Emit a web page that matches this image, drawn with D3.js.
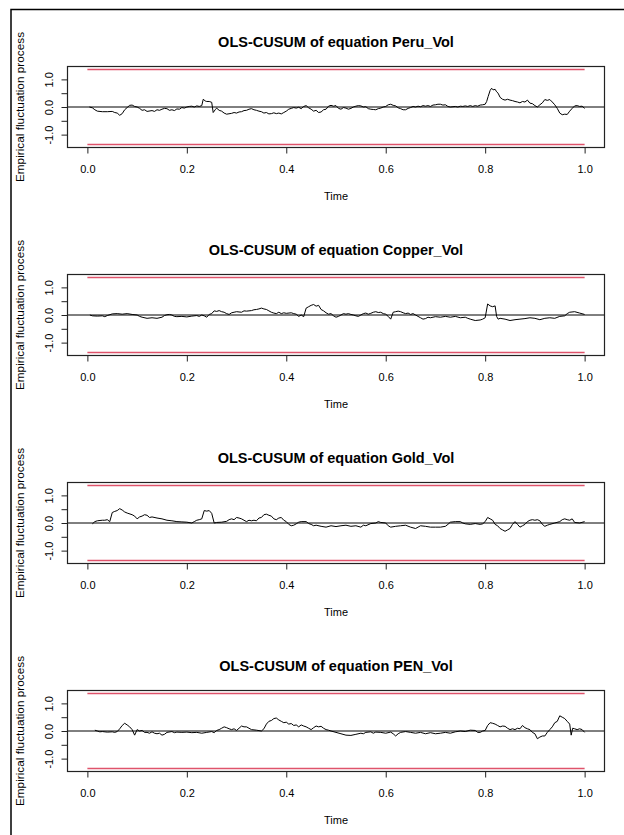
<!DOCTYPE html>
<html>
<head>
<meta charset="utf-8">
<script src="https://cdn.jsdelivr.net/npm/d3@7"></script>
<style>
  html, body { margin: 0; padding: 0; background: #fff; }
  svg { display: block; font-family: "Liberation Sans", Arial, sans-serif; }
</style>
</head>
<body>
<svg id="chart" width="624" height="835"></svg>
<script>
// ---- data ----
const panelTitles = [
  "OLS-CUSUM of equation Peru_Vol",
  "OLS-CUSUM of equation Copper_Vol",
  "OLS-CUSUM of equation Gold_Vol",
  "OLS-CUSUM of equation PEN_Vol"
];
const timeTicks = [0, 0.2, 0.4, 0.6, 0.8, 1.0];
const yTicks = [-1, -0.5, 0, 0.5, 1];
const yTickLabels = ["-1.0", "", "0.0", "", "1.0"];
const boundary = 1.358;
const xLabel = "Time";
const yLabel = "Empirical fluctuation process";

const peruVol = [[0.004,0],[0.01,-0.03],[0.015,-0.1],[0.02,-0.15],[0.03,-0.17],[0.04,-0.17],[0.05,-0.16],[0.055,-0.2],[0.06,-0.22],[0.065,-0.3],[0.07,-0.24],[0.075,-0.1],[0.08,-0.02],[0.085,0.06],[0.09,0.07],[0.095,0.02],[0.1,0.0],[0.105,-0.05],[0.11,-0.12],[0.115,-0.1],[0.12,-0.16],[0.13,-0.13],[0.135,-0.16],[0.14,-0.1],[0.145,-0.12],[0.15,-0.08],[0.155,-0.05],[0.16,-0.06],[0.165,-0.12],[0.17,-0.1],[0.175,-0.13],[0.18,-0.07],[0.185,-0.08],[0.19,-0.02],[0.195,-0.04],[0.2,0.0],[0.205,0.02],[0.21,0.03],[0.215,0.0],[0.22,0.04],[0.225,0.02],[0.23,0.05],[0.233,0.28],[0.237,0.22],[0.24,0.2],[0.245,0.2],[0.25,0.17],[0.253,-0.2],[0.257,-0.1],[0.26,-0.04],[0.265,-0.12],[0.27,-0.15],[0.275,-0.22],[0.28,-0.26],[0.29,-0.23],[0.295,-0.2],[0.3,-0.22],[0.305,-0.18],[0.31,-0.17],[0.315,-0.13],[0.32,-0.12],[0.325,-0.08],[0.33,-0.06],[0.335,-0.1],[0.34,-0.12],[0.345,-0.15],[0.35,-0.17],[0.355,-0.22],[0.36,-0.2],[0.365,-0.25],[0.37,-0.24],[0.375,-0.21],[0.38,-0.24],[0.385,-0.22],[0.39,-0.25],[0.395,-0.2],[0.4,-0.15],[0.405,-0.08],[0.41,-0.05],[0.415,-0.02],[0.42,-0.04],[0.425,-0.01],[0.43,-0.06],[0.435,0.02],[0.44,0.05],[0.445,-0.03],[0.45,-0.08],[0.455,-0.15],[0.46,-0.12],[0.465,-0.2],[0.47,-0.18],[0.475,-0.1],[0.48,-0.08],[0.485,0.03],[0.49,0.06],[0.495,0.03],[0.5,0.05],[0.505,-0.05],[0.51,-0.08],[0.515,-0.02],[0.52,-0.04],[0.525,-0.08],[0.53,-0.05],[0.535,0.0],[0.54,0.03],[0.545,0.05],[0.55,0.04],[0.555,0.0],[0.56,0.01],[0.565,-0.06],[0.57,-0.08],[0.575,-0.09],[0.58,-0.1],[0.585,-0.06],[0.59,-0.04],[0.595,0.0],[0.6,0.02],[0.605,0.08],[0.61,0.1],[0.615,0.06],[0.62,0.04],[0.625,-0.03],[0.63,-0.06],[0.635,-0.1],[0.64,-0.1],[0.645,-0.05],[0.65,-0.02],[0.655,0.02],[0.66,0.0],[0.665,0.03],[0.67,0.01],[0.675,0.05],[0.68,0.03],[0.685,0.05],[0.69,0.02],[0.695,0.07],[0.7,0.08],[0.705,0.1],[0.71,0.1],[0.715,0.07],[0.72,0.08],[0.725,0.02],[0.73,0.0],[0.74,0.02],[0.745,0.0],[0.75,0.03],[0.755,0.02],[0.76,0.04],[0.765,0.02],[0.77,0.05],[0.775,0.02],[0.78,0.05],[0.785,0.03],[0.79,0.07],[0.795,0.08],[0.8,0.1],[0.803,0.2],[0.806,0.38],[0.81,0.6],[0.813,0.68],[0.816,0.62],[0.82,0.64],[0.823,0.55],[0.826,0.5],[0.83,0.35],[0.835,0.28],[0.84,0.25],[0.845,0.28],[0.85,0.25],[0.855,0.23],[0.86,0.2],[0.865,0.18],[0.87,0.15],[0.875,0.2],[0.88,0.18],[0.885,0.25],[0.89,0.14],[0.895,0.12],[0.9,0.05],[0.905,0.0],[0.91,0.08],[0.915,0.15],[0.92,0.27],[0.925,0.24],[0.93,0.27],[0.935,0.18],[0.94,0.08],[0.945,-0.05],[0.95,-0.22],[0.955,-0.28],[0.96,-0.26],[0.965,-0.27],[0.97,-0.15],[0.975,-0.05],[0.98,0.04],[0.985,0.05],[0.99,0.02],[0.995,0.03],[1.0,-0.05]];

const copperVol = [[0.005,0.0],[0.01,-0.03],[0.02,-0.04],[0.03,-0.03],[0.035,-0.06],[0.04,-0.02],[0.05,0.04],[0.06,0.05],[0.07,0.03],[0.08,0.05],[0.09,0.02],[0.1,0.0],[0.105,-0.05],[0.11,-0.08],[0.12,-0.12],[0.13,-0.1],[0.14,-0.12],[0.15,-0.08],[0.155,-0.02],[0.16,0.01],[0.165,0.02],[0.17,0.0],[0.175,-0.05],[0.18,-0.06],[0.19,-0.05],[0.2,-0.07],[0.21,-0.04],[0.22,-0.02],[0.225,-0.05],[0.23,0.0],[0.235,-0.03],[0.24,-0.08],[0.245,0.02],[0.25,0.05],[0.255,0.15],[0.26,0.13],[0.265,0.16],[0.27,0.12],[0.275,0.1],[0.28,0.05],[0.285,0.02],[0.29,0.08],[0.295,0.1],[0.3,0.12],[0.31,0.1],[0.315,0.15],[0.32,0.14],[0.33,0.16],[0.335,0.19],[0.34,0.2],[0.345,0.22],[0.35,0.25],[0.355,0.22],[0.36,0.2],[0.365,0.15],[0.37,0.1],[0.375,0.07],[0.38,0.05],[0.385,0.1],[0.39,0.05],[0.395,0.08],[0.4,0.06],[0.41,0.08],[0.415,0.05],[0.42,0.03],[0.425,-0.05],[0.43,0.0],[0.435,-0.06],[0.44,0.25],[0.445,0.3],[0.45,0.35],[0.455,0.38],[0.46,0.32],[0.465,0.35],[0.47,0.2],[0.475,0.15],[0.48,0.08],[0.485,0.03],[0.49,0.05],[0.495,-0.03],[0.5,-0.08],[0.505,-0.05],[0.51,0.0],[0.515,0.05],[0.52,0.03],[0.525,0.05],[0.53,0.02],[0.535,0.0],[0.54,-0.03],[0.545,-0.05],[0.55,0.0],[0.555,0.05],[0.56,0.07],[0.565,0.03],[0.57,0.06],[0.575,0.1],[0.58,0.12],[0.585,0.09],[0.59,0.1],[0.595,0.05],[0.6,0.03],[0.605,-0.05],[0.61,-0.15],[0.615,0.1],[0.62,0.12],[0.625,0.14],[0.63,0.12],[0.635,0.08],[0.64,0.05],[0.645,0.07],[0.65,0.02],[0.655,0.05],[0.66,0.0],[0.665,-0.05],[0.67,-0.1],[0.675,-0.15],[0.68,-0.13],[0.685,-0.08],[0.69,-0.1],[0.7,-0.06],[0.71,-0.08],[0.72,-0.05],[0.73,-0.08],[0.74,-0.05],[0.75,-0.1],[0.76,-0.08],[0.765,-0.12],[0.77,-0.15],[0.78,-0.2],[0.79,-0.18],[0.795,-0.15],[0.8,-0.1],[0.805,0.4],[0.81,0.33],[0.815,0.3],[0.82,0.33],[0.823,-0.05],[0.826,-0.15],[0.83,-0.12],[0.84,-0.15],[0.85,-0.2],[0.86,-0.17],[0.87,-0.15],[0.88,-0.13],[0.89,-0.1],[0.9,-0.12],[0.91,-0.17],[0.92,-0.12],[0.93,-0.1],[0.94,-0.12],[0.95,-0.05],[0.96,-0.03],[0.965,0.05],[0.97,0.1],[0.98,0.12],[0.99,0.07],[1.0,0.02]];

const goldVol = [[0.01,-0.03],[0.015,0.05],[0.02,0.08],[0.03,0.1],[0.035,0.1],[0.04,0.12],[0.045,0.05],[0.05,0.38],[0.055,0.42],[0.06,0.45],[0.065,0.52],[0.07,0.47],[0.075,0.4],[0.08,0.36],[0.09,0.3],[0.095,0.25],[0.1,0.15],[0.105,0.22],[0.11,0.25],[0.115,0.3],[0.12,0.28],[0.125,0.2],[0.13,0.22],[0.14,0.18],[0.15,0.15],[0.16,0.1],[0.17,0.08],[0.18,0.05],[0.19,0.04],[0.2,0.03],[0.21,0.0],[0.215,0.05],[0.22,0.1],[0.225,0.12],[0.23,0.15],[0.235,0.45],[0.24,0.43],[0.245,0.45],[0.25,0.35],[0.255,0.0],[0.26,0.02],[0.27,0.03],[0.28,0.06],[0.285,0.12],[0.29,0.15],[0.295,0.12],[0.3,0.2],[0.305,0.18],[0.31,0.15],[0.315,0.1],[0.32,0.05],[0.325,0.1],[0.33,0.08],[0.335,0.1],[0.34,0.08],[0.345,0.18],[0.35,0.2],[0.355,0.3],[0.36,0.32],[0.365,0.28],[0.37,0.25],[0.375,0.15],[0.38,0.12],[0.385,0.18],[0.39,0.2],[0.395,0.1],[0.4,0.05],[0.405,-0.05],[0.41,-0.1],[0.415,-0.08],[0.42,-0.03],[0.425,0.03],[0.43,0.05],[0.44,0.05],[0.445,-0.02],[0.45,-0.05],[0.455,-0.1],[0.46,-0.08],[0.47,-0.12],[0.48,-0.15],[0.49,-0.1],[0.5,-0.13],[0.51,-0.1],[0.52,-0.08],[0.53,-0.12],[0.54,-0.1],[0.55,-0.15],[0.555,-0.08],[0.56,-0.1],[0.57,-0.02],[0.58,0.0],[0.585,0.05],[0.59,0.02],[0.6,0.0],[0.605,-0.1],[0.61,-0.15],[0.62,-0.12],[0.63,-0.1],[0.64,-0.08],[0.65,-0.15],[0.66,-0.2],[0.665,-0.15],[0.67,-0.1],[0.68,-0.12],[0.69,-0.15],[0.7,-0.15],[0.71,-0.15],[0.72,-0.12],[0.725,-0.05],[0.73,0.03],[0.74,0.05],[0.75,0.05],[0.755,0.0],[0.76,-0.03],[0.77,-0.05],[0.78,-0.02],[0.79,-0.05],[0.795,-0.03],[0.8,0.05],[0.805,0.2],[0.81,0.15],[0.815,0.1],[0.82,-0.05],[0.825,-0.1],[0.83,-0.2],[0.835,-0.25],[0.84,-0.3],[0.845,-0.25],[0.85,-0.2],[0.855,-0.05],[0.86,0.05],[0.865,-0.05],[0.87,-0.15],[0.875,-0.1],[0.88,-0.05],[0.885,0.05],[0.89,0.1],[0.895,0.12],[0.9,0.1],[0.905,0.12],[0.91,0.08],[0.915,-0.05],[0.92,-0.12],[0.925,-0.08],[0.93,-0.05],[0.94,0.0],[0.95,0.05],[0.955,0.12],[0.96,0.15],[0.965,0.12],[0.97,0.1],[0.975,0.15],[0.98,0.02],[0.99,0.0],[1.0,0.05]];

const penVol = [[0.015,0.03],[0.02,0.0],[0.025,-0.03],[0.03,-0.02],[0.04,-0.04],[0.05,-0.03],[0.055,-0.05],[0.06,-0.02],[0.065,0.08],[0.07,0.2],[0.075,0.28],[0.08,0.22],[0.085,0.15],[0.09,0.05],[0.095,-0.15],[0.1,0.05],[0.105,0.0],[0.11,0.02],[0.115,-0.05],[0.12,-0.05],[0.125,-0.08],[0.13,-0.03],[0.135,-0.08],[0.14,-0.1],[0.145,-0.08],[0.15,-0.15],[0.155,-0.12],[0.16,-0.05],[0.17,-0.02],[0.175,-0.06],[0.18,-0.04],[0.19,-0.05],[0.2,-0.04],[0.21,-0.06],[0.22,-0.05],[0.23,-0.08],[0.24,-0.05],[0.25,-0.02],[0.255,-0.06],[0.26,0.02],[0.265,0.05],[0.27,0.1],[0.275,0.15],[0.28,0.12],[0.285,0.08],[0.29,0.05],[0.295,0.08],[0.3,0.02],[0.305,0.1],[0.31,0.18],[0.315,0.15],[0.32,0.15],[0.325,0.1],[0.33,0.05],[0.34,0.03],[0.35,0.0],[0.355,0.08],[0.36,0.25],[0.365,0.35],[0.37,0.38],[0.375,0.45],[0.38,0.47],[0.385,0.4],[0.39,0.35],[0.395,0.3],[0.4,0.32],[0.405,0.25],[0.41,0.27],[0.415,0.2],[0.42,0.22],[0.425,0.15],[0.43,0.22],[0.435,0.18],[0.44,0.15],[0.445,0.1],[0.45,0.05],[0.455,0.12],[0.46,0.18],[0.465,0.15],[0.47,0.17],[0.475,0.1],[0.48,0.05],[0.485,0.03],[0.49,0.0],[0.5,-0.05],[0.51,-0.1],[0.52,-0.15],[0.53,-0.16],[0.54,-0.12],[0.55,-0.08],[0.555,-0.1],[0.56,-0.05],[0.57,-0.03],[0.575,-0.08],[0.58,-0.04],[0.59,-0.05],[0.6,-0.08],[0.61,-0.04],[0.615,-0.1],[0.62,-0.18],[0.625,-0.1],[0.63,-0.05],[0.64,-0.02],[0.65,-0.05],[0.66,-0.08],[0.67,-0.05],[0.68,-0.1],[0.69,-0.06],[0.7,-0.1],[0.71,-0.08],[0.72,-0.05],[0.73,-0.08],[0.74,-0.03],[0.75,0.0],[0.76,-0.02],[0.77,0.03],[0.78,0.02],[0.785,-0.05],[0.79,-0.05],[0.795,0.0],[0.8,0.02],[0.805,0.2],[0.81,0.3],[0.815,0.28],[0.82,0.25],[0.825,0.2],[0.83,0.15],[0.835,0.18],[0.84,0.17],[0.845,0.1],[0.85,0.05],[0.855,0.08],[0.86,0.05],[0.865,0.1],[0.87,0.08],[0.875,0.2],[0.88,0.12],[0.885,0.08],[0.89,0.05],[0.895,-0.05],[0.9,-0.1],[0.905,-0.28],[0.91,-0.22],[0.915,-0.18],[0.92,-0.18],[0.925,-0.05],[0.93,0.05],[0.935,0.15],[0.94,0.3],[0.945,0.35],[0.95,0.55],[0.955,0.5],[0.96,0.45],[0.965,0.35],[0.97,0.25],[0.973,-0.15],[0.976,0.1],[0.98,0.08],[0.985,0.05],[0.99,0.08],[0.995,0.05],[1.0,-0.05]];

const seriesList = [peruVol, copperVol, goldVol, penVol];

// ---- layout ----
const svg = d3.select("#chart");
const W = 624, H = 835;
const boxLeft = 67.5, boxRight = 604.5, boxH = 81;
const panelTop0 = 65.5, panelStep = 208.3;
const boundColor = "#DF536B";

// outer frame (left + top)
svg.append("path")
  .attr("d", `M11,${H} V9.5 H${W}`)
  .attr("fill", "none").attr("stroke", "#000").attr("stroke-width", 1.5);

const x = d3.scaleLinear().domain([-0.04, 1.04]).range([boxLeft, boxRight]);
const yLim = boundary * 1.08;

seriesList.forEach((series, i) => {
  const top = Math.round(panelTop0 + panelStep * i) + 0.5;
  const bottom = top + boxH;
  const y = d3.scaleLinear().domain([-yLim, yLim]).range([bottom, top]);
  const g = svg.append("g");

  // title
  g.append("text")
    .attr("x", (boxLeft + boxRight) / 2).attr("y", top - 25)
    .attr("dy", "0.35em").attr("text-anchor", "middle")
    .attr("font-weight", "bold").attr("font-size", "14.5px")
    .attr("fill", "#000")
    .text(panelTitles[i]);

  // zero line
  g.append("line")
    .attr("x1", boxLeft).attr("x2", boxRight)
    .attr("y1", y(0)).attr("y2", y(0))
    .attr("stroke", "#000").attr("stroke-width", 1);

  // process line
  const line = d3.line().x(d => x(d[0])).y(d => y(d[1]));
  g.append("path").datum(series)
    .attr("d", line).attr("fill", "none")
    .attr("stroke", "#000").attr("stroke-width", 1).attr("stroke-linejoin", "round");

  // box
  g.append("rect")
    .attr("x", boxLeft).attr("y", top)
    .attr("width", boxRight - boxLeft).attr("height", boxH)
    .attr("fill", "none").attr("stroke", "#222").attr("stroke-width", 1.2);

  // boundaries
  const bounds = [boundary, -boundary];
  g.selectAll("line.bound").data(bounds).join("line")
    .attr("class", "bound")
    .attr("x1", x(0)).attr("x2", x(1))
    .attr("y1", d => y(d)).attr("y2", d => y(d))
    .style("stroke", boundColor).style("stroke-width", "1.3px");

  // x axis
  const xa = g.append("g").attr("transform", `translate(0,${bottom})`)
    .call(d3.axisBottom(x).tickValues(timeTicks).tickFormat(d3.format(".1f")).tickSize(6));
  xa.select(".domain").remove();
  xa.selectAll(".tick line").attr("stroke", "#222");
  xa.selectAll(".tick text")
    .attr("y", 22).attr("dy", "0.35em")
    .attr("font-size", "11px").attr("font-family", "Liberation Sans, Arial, sans-serif")
    .attr("fill", "#000");

  // y axis
  const ya = g.append("g").attr("transform", `translate(${boxLeft},0)`)
    .call(d3.axisLeft(y).tickValues(yTicks).tickFormat((d, k) => yTickLabels[k]).tickSize(6));
  ya.select(".domain").remove();
  ya.selectAll(".tick line").attr("stroke", "#222");
  ya.selectAll(".tick text")
    .attr("x", null).attr("dy", "0.35em")
    .attr("transform", "translate(-18.7,0) rotate(-90)")
    .attr("text-anchor", "middle")
    .attr("font-size", "11px").attr("font-family", "Liberation Sans, Arial, sans-serif")
    .attr("fill", "#000");

  // axis titles
  g.append("text")
    .attr("x", (boxLeft + boxRight) / 2).attr("y", top + 129.5)
    .attr("dy", "0.35em").attr("text-anchor", "middle")
    .attr("font-size", "11px").attr("fill", "#000")
    .text(xLabel);

  g.append("text")
    .attr("transform", `translate(20,${top + boxH / 2}) rotate(-90)`)
    .attr("dy", "0.35em").attr("text-anchor", "middle")
    .attr("font-size", "11.8px").attr("fill", "#000")
    .text(yLabel);
});
</script>
</body>
</html>
